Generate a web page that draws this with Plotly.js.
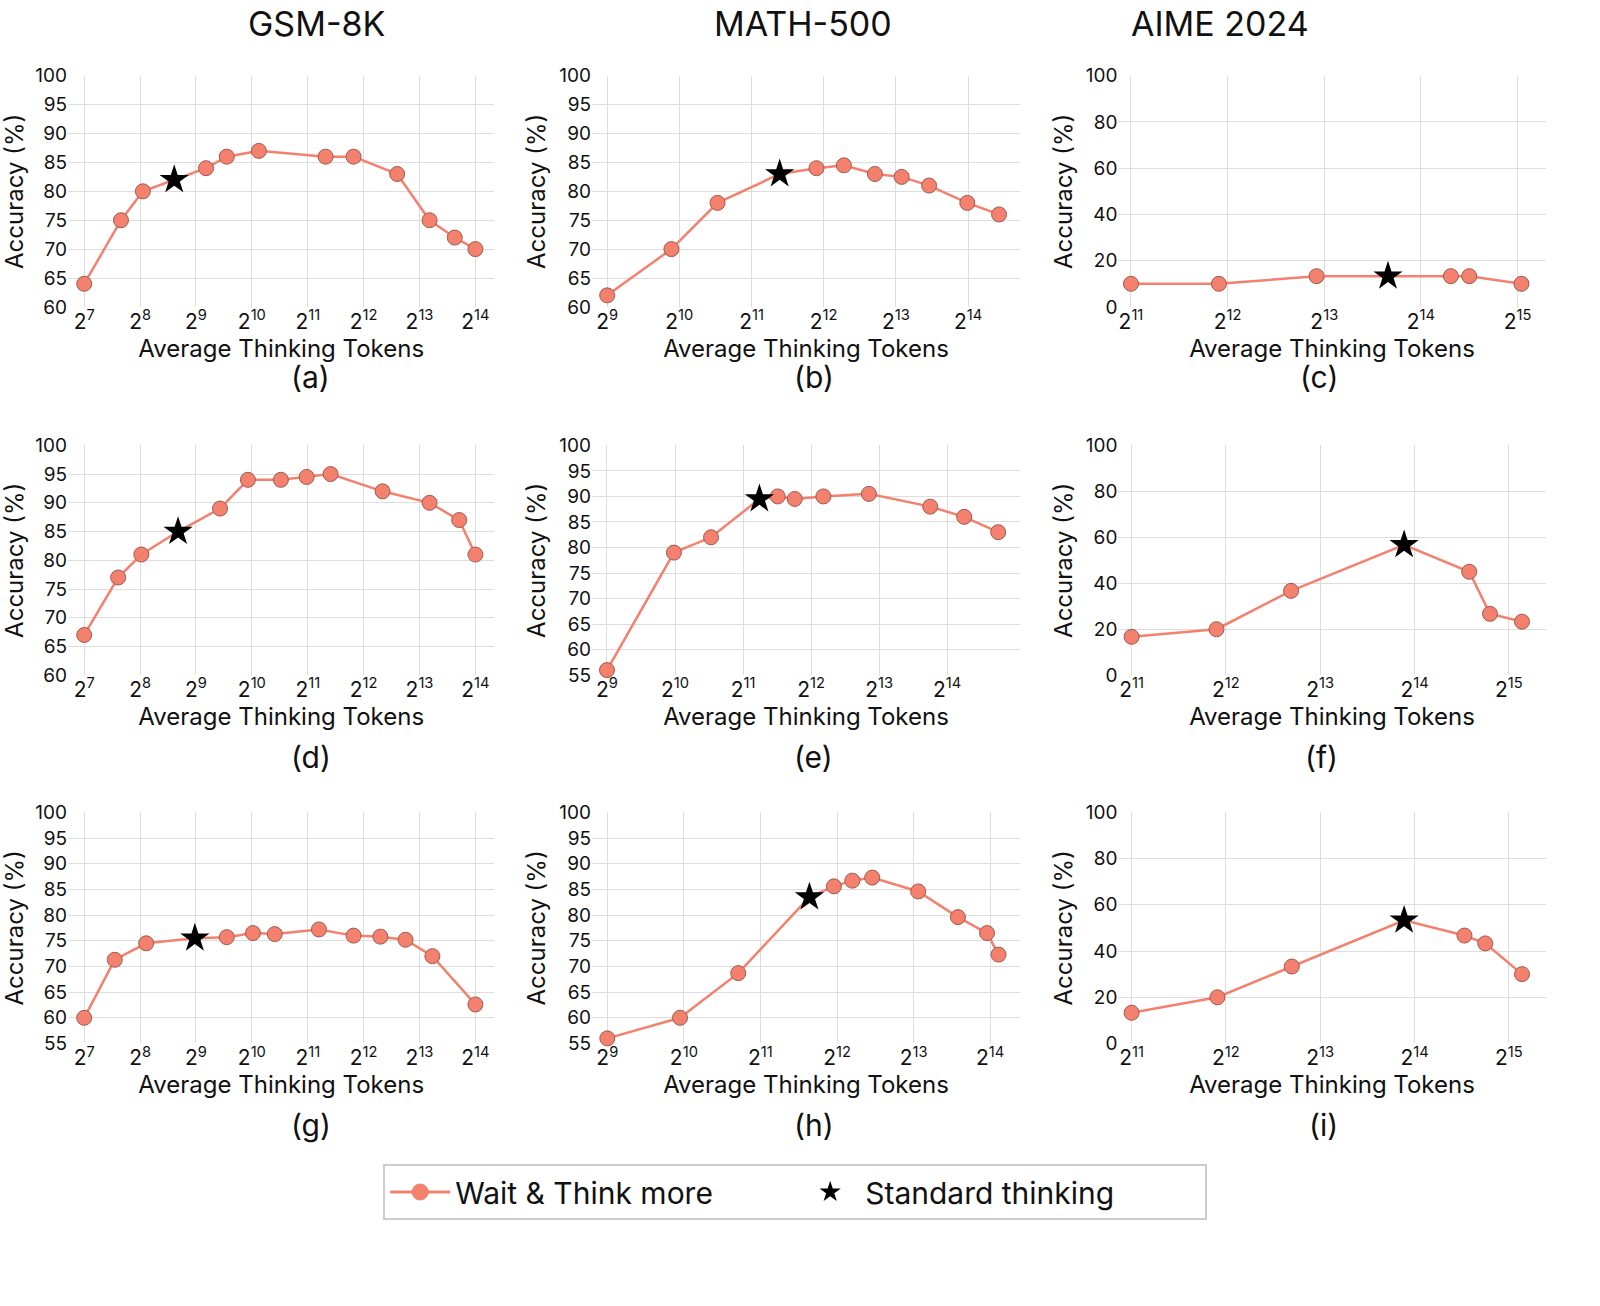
<!DOCTYPE html>
<html>
<head>
<meta charset="utf-8">
<script src="https://cdn.plot.ly/plotly-3.0.1.min.js"></script>
<style>body{margin:0;background:#fff}#chart{width:1600px;height:1306px}</style>
</head>
<body>
<div id="chart"></div>
<script>
// tokens and accuracy per panel, star = standard thinking point
var tokA = [128,202,265,391,580,750,1117,2556,3615,6208,9280,12680,16384];
var accA = [64,75,80,82,84,86,87,86,86,83,75,72,70];
var tokB = [512,949,1478,2684,3822,4973,6700,8660,11270,16270,22070];
var accB = [62,70,78,83,84,84.5,83,82.5,81,78,76];
var tokC = [2048,3848,7750,12940,20310,23170,33690];
var accC = [10,10,13.3,13.3,13.3,13.3,10];
var tokD = [128,195,260,410,690,975,1468,2020,2720,5180,9280,13400,16384];
var accD = [67,77,81,85,89,94,94,94.5,95,92,90,87,81];
var tokE = [512,1013,1478,2419,2916,3468,4640,7380,13780,19480,27550];
var accE = [56,79,82,89.5,90,89.5,90,90.5,88,86,83];
var tokF = [2048,3822,6610,15180,24490,28530,36100];
var accF = [16.7,20,36.7,56.7,45,26.7,23.3];
var tokG = [128,187,276,505,750,1038,1360,2353,3615,5043,6888,9610,16384];
var accG = [60,71.3,74.5,75.5,75.7,76.5,76.3,77.2,76,75.8,75.2,72,62.6];
var tokH = [512,989,1675,3191,3983,4705,5633,8540,12240,15930,17680];
var accH = [56,60,68.7,83.5,85.6,86.7,87.3,84.6,79.6,76.5,72.3];
var tokI = [2048,3848,6650,15180,23650,27550,36100];
var accI = [13.3,20,33.3,53.3,46.7,43.3,30];
var starIdx = [3,3,3,3,3,3,3,3,3];
var colTitles = ['GSM-8K','MATH-500','AIME 2024'];
var panelLabels = ['(a)','(b)','(c)','(d)','(e)','(f)','(g)','(h)','(i)'];

var panels = [
  {t:tokA,a:accA,xr:[6.71,14.34],e:[7,14],yr:[60,100],dy:5},
  {t:tokB,a:accB,xr:[8.79,14.72],e:[9,14],yr:[60,100],dy:5},
  {t:tokC,a:accC,xr:[10.87,15.29],e:[11,15],yr:[0,100],dy:20},
  {t:tokD,a:accD,xr:[6.71,14.34],e:[7,14],yr:[60,100],dy:5},
  {t:tokE,a:accE,xr:[8.78,15.07],e:[9,14],yr:[55,100],dy:5},
  {t:tokF,a:accF,xr:[10.86,15.39],e:[11,15],yr:[0,100],dy:20},
  {t:tokG,a:accG,xr:[6.71,14.34],e:[7,14],yr:[55,100],dy:5},
  {t:tokH,a:accH,xr:[8.80,14.39],e:[9,14],yr:[55,100],dy:5},
  {t:tokI,a:accI,xr:[10.86,15.39],e:[11,15],yr:[0,100],dy:20}
];

var salmon = '#F4806E';
var xdom = [[0.0425,0.309],[0.37,0.6375],[0.699,0.966]];
var ydom = [[0.765,0.942],[0.483,0.659],[0.201,0.378]];
var labelY = [1-377/1306, 1-757/1306, 1-1125/1306];
var data = [], layout = {
  width:1600, height:1306, paper_bgcolor:'#fff', plot_bgcolor:'#fff',
  margin:{l:0,r:0,t:0,b:0}, font:{family:'Inter, Noto Sans, sans-serif',color:'#111'},
  annotations:[], showlegend:true,
  legend:{orientation:'h',x:0.497,xanchor:'center',y:1-1192/1306,yanchor:'middle',
    font:{size:30},bordercolor:'#ccc',borderwidth:2,itemwidth:60,entrywidth:335,
    traceorder:'normal'}
};

panels.forEach(function(p,i){
  var r = Math.floor(i/3), c = i%3, n = i+1;
  var xa = 'x'+(n==1?'':n), ya = 'y'+(n==1?'':n);
  var s = starIdx[i];
  var cx = p.t.filter(function(v,k){return k!=s;});
  var cy = p.a.filter(function(v,k){return k!=s;});
  data.push({x:p.t,y:p.a,xaxis:xa,yaxis:ya,mode:'lines',line:{color:salmon,width:2.5},
    showlegend:false,hoverinfo:'skip'});
  data.push({x:cx,y:cy,xaxis:xa,yaxis:ya,mode:'markers',cliponaxis:false,showlegend:false,
    marker:{color:salmon,size:15,line:{color:'#a05a50',width:1}}});
  data.push({x:[p.t[s]],y:[p.a[s]],xaxis:xa,yaxis:ya,mode:'markers',cliponaxis:false,showlegend:false,
    marker:{color:'#000',symbol:'star',size:22}});
  var tv=[], tt=[];
  for (var k=p.e[0];k<=p.e[1];k++){tv.push(Math.pow(2,k)); tt.push('2<sup>'+k+'</sup>');}
  var yv=[];
  for (var v=p.yr[0];v<=p.yr[1];v+=p.dy) yv.push(v);
  layout['xaxis'+(n==1?'':n)] = {domain:xdom[c],anchor:ya,type:'log',
    range:[p.xr[0]*Math.LN2/Math.LN10,p.xr[1]*Math.LN2/Math.LN10],
    tickmode:'array',tickvals:tv,ticktext:tt,tickfont:{size:21},gridcolor:'#ddd',
    showline:false,zeroline:false,ticks:'',
    title:{text:'Average Thinking Tokens',font:{size:24},standoff:2}};
  layout['yaxis'+(n==1?'':n)] = {domain:ydom[r],anchor:xa,range:p.yr,
    tickmode:'array',tickvals:yv,tickfont:{size:19},gridcolor:'#ddd',
    showline:false,zeroline:false,ticks:'',
    title:{text:'Accuracy (%)',font:{size:24},standoff:6}};
  layout.annotations.push({text:panelLabels[i],xref:'paper',yref:'paper',yanchor:'middle',
    x:(xdom[c][0]+xdom[c][1])/2+0.005,y:labelY[r],showarrow:false,font:{size:30}});
});

colTitles.forEach(function(t,c){
  layout.annotations.push({text:t,xref:'paper',yref:'paper',x:[246,803,1311][c]/1600,
    y:1-24/1306,yanchor:'middle',showarrow:false,font:{size:34}});
});

data.push({x:[null],y:[null],mode:'lines+markers',name:'Wait & Think more',
  line:{color:salmon,width:3},marker:{color:salmon,size:24,line:{color:salmon,width:1}}});
data.push({x:[null],y:[null],mode:'markers',name:'Standard thinking',
  marker:{color:'#000',symbol:'star',size:24}});

Plotly.newPlot('chart',data,layout,{staticPlot:true});
</script>
</body>
</html>
